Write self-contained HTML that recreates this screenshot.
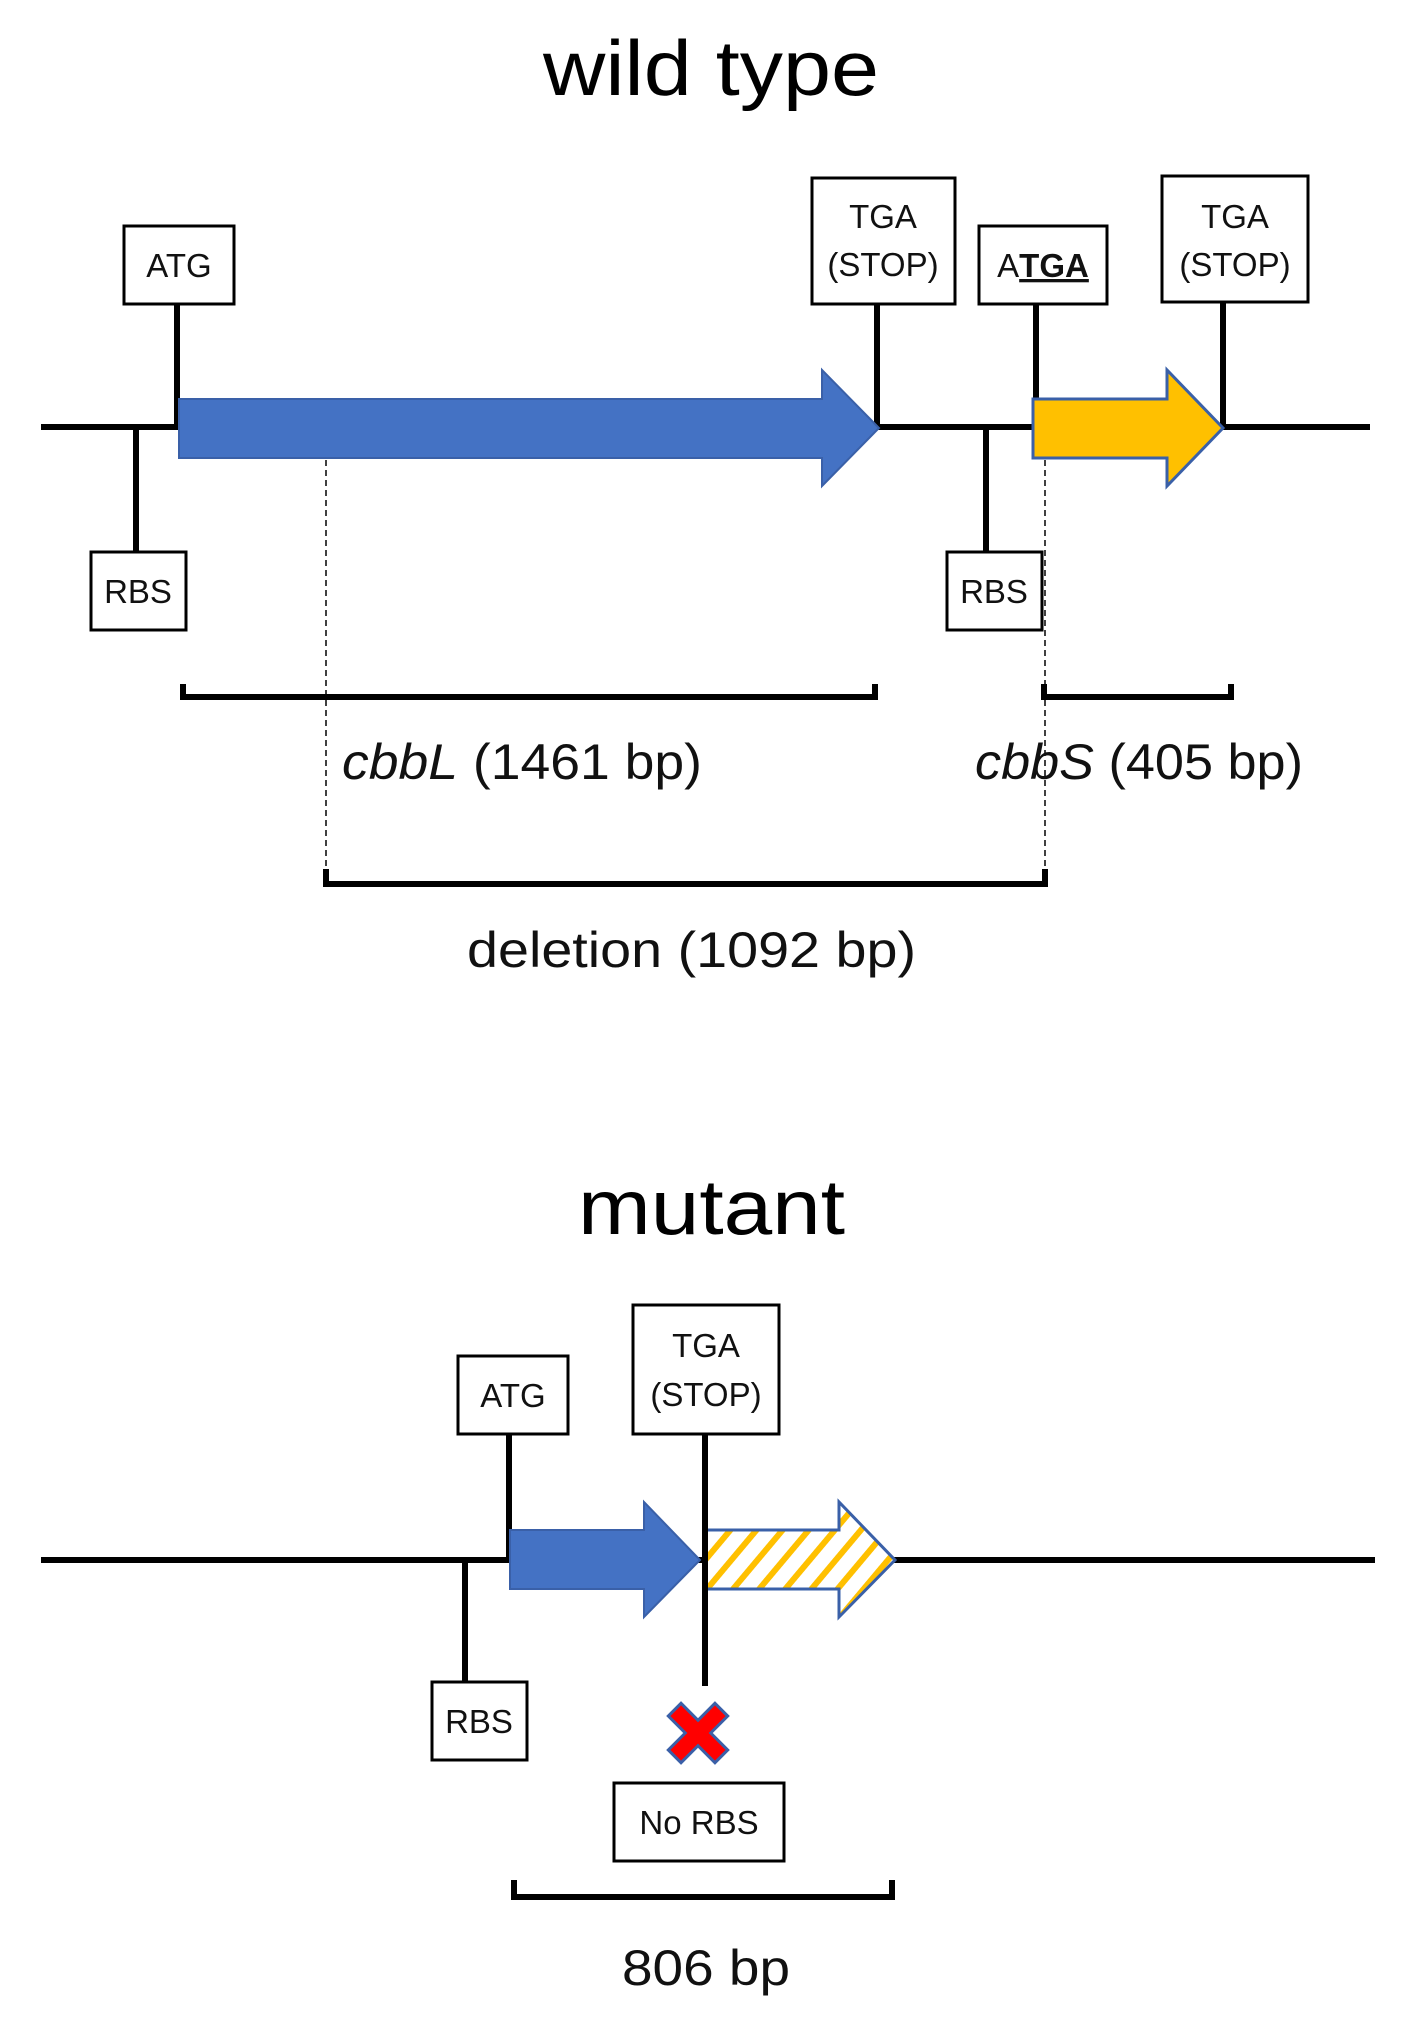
<!DOCTYPE html>
<html><head><meta charset="utf-8"><style>html,body{margin:0;padding:0;background:#fff}svg{display:block}</style></head>
<body>
<svg width="1413" height="2020" viewBox="0 0 1413 2020" xmlns="http://www.w3.org/2000/svg" font-family="Liberation Sans, sans-serif">
<defs>
<pattern id="hatch" patternUnits="userSpaceOnUse" width="20" height="20" patternTransform="rotate(40)">
<rect width="20" height="20" fill="#fff"/><rect width="6" height="20" fill="#FFC000"/>
</pattern>
</defs>
<!-- WILD TYPE -->
<text x="543" y="95" font-size="78" textLength="336" lengthAdjust="spacingAndGlyphs">wild type</text>
<line x1="41" y1="427" x2="1370" y2="427" stroke="#000" stroke-width="6"/>
<g stroke="#000" stroke-width="6">
<line x1="177" y1="303" x2="177" y2="427"/>
<line x1="136" y1="427" x2="136" y2="551"/>
<line x1="877" y1="303" x2="877" y2="427"/>
<line x1="1036" y1="303" x2="1036" y2="427"/>
<line x1="986" y1="427" x2="986" y2="551"/>
<line x1="1223" y1="300" x2="1223" y2="427"/>
</g>
<polygon points="179,399 822,399 822,370 879,428 822,486 822,458 179,458" fill="#4472C4" stroke="#3A60A8" stroke-width="2"/>
<polygon points="1033,399 1167,399 1167,370 1223,428 1167,486 1167,458 1033,458" fill="#FFC000" stroke="#3A60A8" stroke-width="3"/>
<g fill="#fff" stroke="#000" stroke-width="3">
<rect x="124" y="226" width="110" height="78"/>
<rect x="91" y="552" width="95" height="78"/>
<rect x="812" y="178" width="143" height="126"/>
<rect x="979" y="226" width="128" height="78"/>
<rect x="947" y="552" width="95" height="78"/>
<rect x="1162" y="176" width="146" height="126"/>
</g>
<g font-size="33" text-anchor="middle" fill="#111">
<text x="179" y="277">ATG</text>
<text x="138" y="603">RBS</text>
<text x="883" y="228">TGA</text>
<text x="883" y="276">(STOP)</text>
<text x="1043" y="277"><tspan>A</tspan><tspan font-weight="bold" text-decoration="underline">TGA</tspan></text>
<text x="994" y="603">RBS</text>
<text x="1235" y="228">TGA</text>
<text x="1235" y="276">(STOP)</text>
</g>
<g stroke="#000" stroke-width="1.5" stroke-dasharray="6,4">
<line x1="326" y1="460" x2="326" y2="880"/>
<line x1="1045" y1="460" x2="1045" y2="880"/>
</g>
<g fill="none" stroke="#000" stroke-width="6">
<polyline points="183,684 183,697 875,697 875,684"/>
<polyline points="1044,684 1044,697 1231,697 1231,684"/>
<polyline points="326,869 326,884 1045,884 1045,869"/>
<polyline points="514,1880 514,1897 892,1897 892,1880"/>
</g>
<g font-size="50" fill="#111">
<text x="342" y="779" textLength="360" lengthAdjust="spacingAndGlyphs"><tspan font-style="italic">cbbL</tspan> (1461 bp)</text>
<text x="975" y="779" textLength="328" lengthAdjust="spacingAndGlyphs"><tspan font-style="italic">cbbS</tspan> (405 bp)</text>
<text x="467" y="967" textLength="449" lengthAdjust="spacingAndGlyphs">deletion (1092 bp)</text>
</g>
<!-- MUTANT -->
<text x="578" y="1234" font-size="78" textLength="267" lengthAdjust="spacingAndGlyphs">mutant</text>
<line x1="41" y1="1560" x2="1375" y2="1560" stroke="#000" stroke-width="6"/>
<g stroke="#000" stroke-width="6">
<line x1="509" y1="1433" x2="509" y2="1560"/>
<line x1="465" y1="1560" x2="465" y2="1683"/>
<line x1="705" y1="1433" x2="705" y2="1686"/>
</g>
<polygon points="510,1530 644,1530 644,1502 700,1560 644,1617 644,1589 510,1589" fill="#4472C4" stroke="#3A60A8" stroke-width="2"/>
<polygon points="705,1530 839,1530 839,1502 895,1560 839,1617 839,1589 705,1589" fill="url(#hatch)" stroke="#3A60A8" stroke-width="3"/>
<line x1="705" y1="1502" x2="705" y2="1686" stroke="#000" stroke-width="6"/>
<g fill="#fff" stroke="#000" stroke-width="3">
<rect x="458" y="1356" width="110" height="78"/>
<rect x="633" y="1305" width="146" height="129"/>
<rect x="432" y="1682" width="95" height="78"/>
<rect x="614" y="1783" width="170" height="78"/>
</g>
<g font-size="33" text-anchor="middle" fill="#111">
<text x="513" y="1407">ATG</text>
<text x="706" y="1357">TGA</text>
<text x="706" y="1406">(STOP)</text>
<text x="479" y="1733">RBS</text>
<text x="699" y="1834">No RBS</text>
</g>
<g transform="translate(698,1733) rotate(45)">
<path d="M-9,-33 H9 V-9 H33 V9 H9 V33 H-9 V9 H-33 V-9 H-9 Z" fill="#FF0000" stroke="#3A60A8" stroke-width="3"/>
</g>
<text x="622" y="1985" font-size="50" fill="#111" textLength="168" lengthAdjust="spacingAndGlyphs">806 bp</text>
</svg>
</body></html>
